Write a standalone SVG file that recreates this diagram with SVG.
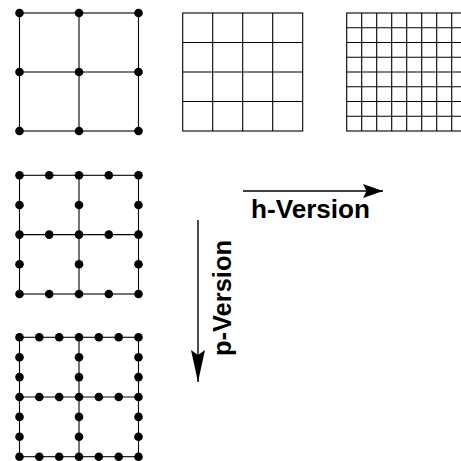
<svg xmlns="http://www.w3.org/2000/svg" width="461" height="461" viewBox="0 0 461 461">
  <style>
    .grid line, .grid rect { stroke: #000; stroke-width: 1.1; fill: none; }
    .dot { fill: #000; }
    .label { font-family: "Liberation Sans", Arial, Helvetica, sans-serif; font-weight: bold; font-size: 25px; fill: #000; }
    .conn { stroke: #000; stroke-width: 1.4; fill: none; }
  </style>
  <defs>
    <circle id="pt" r="4.3" class="dot"/>
    <marker id="headH" markerUnits="userSpaceOnUse" markerWidth="21" markerHeight="15" refX="20" refY="7" orient="auto">
      <path d="M0,0 L20,7 L0,14 L3.5,7 Z" fill="#000"/>
    </marker>
    <marker id="headP" markerUnits="userSpaceOnUse" markerWidth="33" markerHeight="15" refX="32" refY="7" orient="auto">
      <path d="M0,0 L32,7 L0,14 L5,7 Z" fill="#000"/>
    </marker>
  </defs>

  <rect width="461" height="461" fill="#fff"/>

  <!-- coarse mesh, linear elements -->
  <g id="mesh-coarse" class="grid">
    <rect x="19.5" y="13" width="119" height="118"/>
    <line x1="79" y1="13" x2="79" y2="131"/>
    <line x1="19.5" y1="72" x2="138.5" y2="72"/>
    <use href="#pt" x="19.5" y="13"/><use href="#pt" x="79" y="13"/><use href="#pt" x="138.5" y="13"/>
    <use href="#pt" x="19.5" y="72"/><use href="#pt" x="79" y="72"/><use href="#pt" x="138.5" y="72"/>
    <use href="#pt" x="19.5" y="131"/><use href="#pt" x="79" y="131"/><use href="#pt" x="138.5" y="131"/>
  </g>

  <!-- h-refinement, 4x4 -->
  <g id="mesh-h1" class="grid">
    <rect x="182.7" y="13" width="120" height="118"/>
    <line x1="212.7" y1="13" x2="212.7" y2="131"/>
    <line x1="242.7" y1="13" x2="242.7" y2="131"/>
    <line x1="272.7" y1="13" x2="272.7" y2="131"/>
    <line x1="182.7" y1="42.5" x2="302.7" y2="42.5"/>
    <line x1="182.7" y1="72" x2="302.7" y2="72"/>
    <line x1="182.7" y1="101.5" x2="302.7" y2="101.5"/>
  </g>

  <!-- h-refinement, 8x8 -->
  <g id="mesh-h2" class="grid">
    <rect x="346.7" y="13" width="120" height="118"/>
    <line x1="361.7" y1="13" x2="361.7" y2="131"/>
    <line x1="376.7" y1="13" x2="376.7" y2="131"/>
    <line x1="391.7" y1="13" x2="391.7" y2="131"/>
    <line x1="406.7" y1="13" x2="406.7" y2="131"/>
    <line x1="421.7" y1="13" x2="421.7" y2="131"/>
    <line x1="436.7" y1="13" x2="436.7" y2="131"/>
    <line x1="451.7" y1="13" x2="451.7" y2="131"/>
    <line x1="346.7" y1="27.75" x2="466.7" y2="27.75"/>
    <line x1="346.7" y1="42.5" x2="466.7" y2="42.5"/>
    <line x1="346.7" y1="57.25" x2="466.7" y2="57.25"/>
    <line x1="346.7" y1="72" x2="466.7" y2="72"/>
    <line x1="346.7" y1="86.75" x2="466.7" y2="86.75"/>
    <line x1="346.7" y1="101.5" x2="466.7" y2="101.5"/>
    <line x1="346.7" y1="116.25" x2="466.7" y2="116.25"/>
  </g>

  <!-- p-refinement, quadratic elements -->
  <g id="mesh-p2" class="grid">
    <rect x="19.5" y="175.3" width="119" height="118.7"/>
    <line x1="79" y1="175.3" x2="79" y2="294"/>
    <line x1="19.5" y1="234.6" x2="138.5" y2="234.6"/>
    <use href="#pt" x="19.5" y="175.3"/><use href="#pt" x="49.2" y="175.3"/><use href="#pt" x="79" y="175.3"/><use href="#pt" x="108.8" y="175.3"/><use href="#pt" x="138.5" y="175.3"/>
    <use href="#pt" x="19.5" y="205"/><use href="#pt" x="79" y="205"/><use href="#pt" x="138.5" y="205"/>
    <use href="#pt" x="19.5" y="234.6"/><use href="#pt" x="49.2" y="234.6"/><use href="#pt" x="79" y="234.6"/><use href="#pt" x="108.8" y="234.6"/><use href="#pt" x="138.5" y="234.6"/>
    <use href="#pt" x="19.5" y="264.3"/><use href="#pt" x="79" y="264.3"/><use href="#pt" x="138.5" y="264.3"/>
    <use href="#pt" x="19.5" y="294"/><use href="#pt" x="49.2" y="294"/><use href="#pt" x="79" y="294"/><use href="#pt" x="108.8" y="294"/><use href="#pt" x="138.5" y="294"/>
  </g>

  <!-- p-refinement, cubic elements -->
  <g id="mesh-p3" class="grid">
    <rect x="19.5" y="337.3" width="119" height="119.4"/>
    <line x1="79" y1="337.3" x2="79" y2="456.7"/>
    <line x1="19.5" y1="397" x2="138.5" y2="397"/>
    <use href="#pt" x="19.5" y="337.3"/><use href="#pt" x="39.3" y="337.3"/><use href="#pt" x="59.2" y="337.3"/><use href="#pt" x="79" y="337.3"/><use href="#pt" x="98.8" y="337.3"/><use href="#pt" x="118.7" y="337.3"/><use href="#pt" x="138.5" y="337.3"/>
    <use href="#pt" x="19.5" y="357.2"/><use href="#pt" x="79" y="357.2"/><use href="#pt" x="138.5" y="357.2"/>
    <use href="#pt" x="19.5" y="377.1"/><use href="#pt" x="79" y="377.1"/><use href="#pt" x="138.5" y="377.1"/>
    <use href="#pt" x="19.5" y="397"/><use href="#pt" x="39.3" y="397"/><use href="#pt" x="59.2" y="397"/><use href="#pt" x="79" y="397"/><use href="#pt" x="98.8" y="397"/><use href="#pt" x="118.7" y="397"/><use href="#pt" x="138.5" y="397"/>
    <use href="#pt" x="19.5" y="416.9"/><use href="#pt" x="79" y="416.9"/><use href="#pt" x="138.5" y="416.9"/>
    <use href="#pt" x="19.5" y="436.8"/><use href="#pt" x="79" y="436.8"/><use href="#pt" x="138.5" y="436.8"/>
    <use href="#pt" x="19.5" y="456.7"/><use href="#pt" x="39.3" y="456.7"/><use href="#pt" x="59.2" y="456.7"/><use href="#pt" x="79" y="456.7"/><use href="#pt" x="98.8" y="456.7"/><use href="#pt" x="118.7" y="456.7"/><use href="#pt" x="138.5" y="456.7"/>
  </g>

  <!-- refinement direction arrows -->
  <g id="connectors">
    <line class="conn" x1="243" y1="191" x2="383" y2="191" marker-end="url(#headH)"/>
    <line class="conn" x1="198" y1="220" x2="198" y2="382" marker-end="url(#headP)"/>
  </g>

  <g id="labels">
    <text class="label" x="251" y="218" textLength="119" lengthAdjust="spacingAndGlyphs">h-Version</text>
    <text class="label" transform="translate(231,356) rotate(-90)" x="0" y="0" textLength="116" lengthAdjust="spacingAndGlyphs">p-Version</text>
  </g>
</svg>
